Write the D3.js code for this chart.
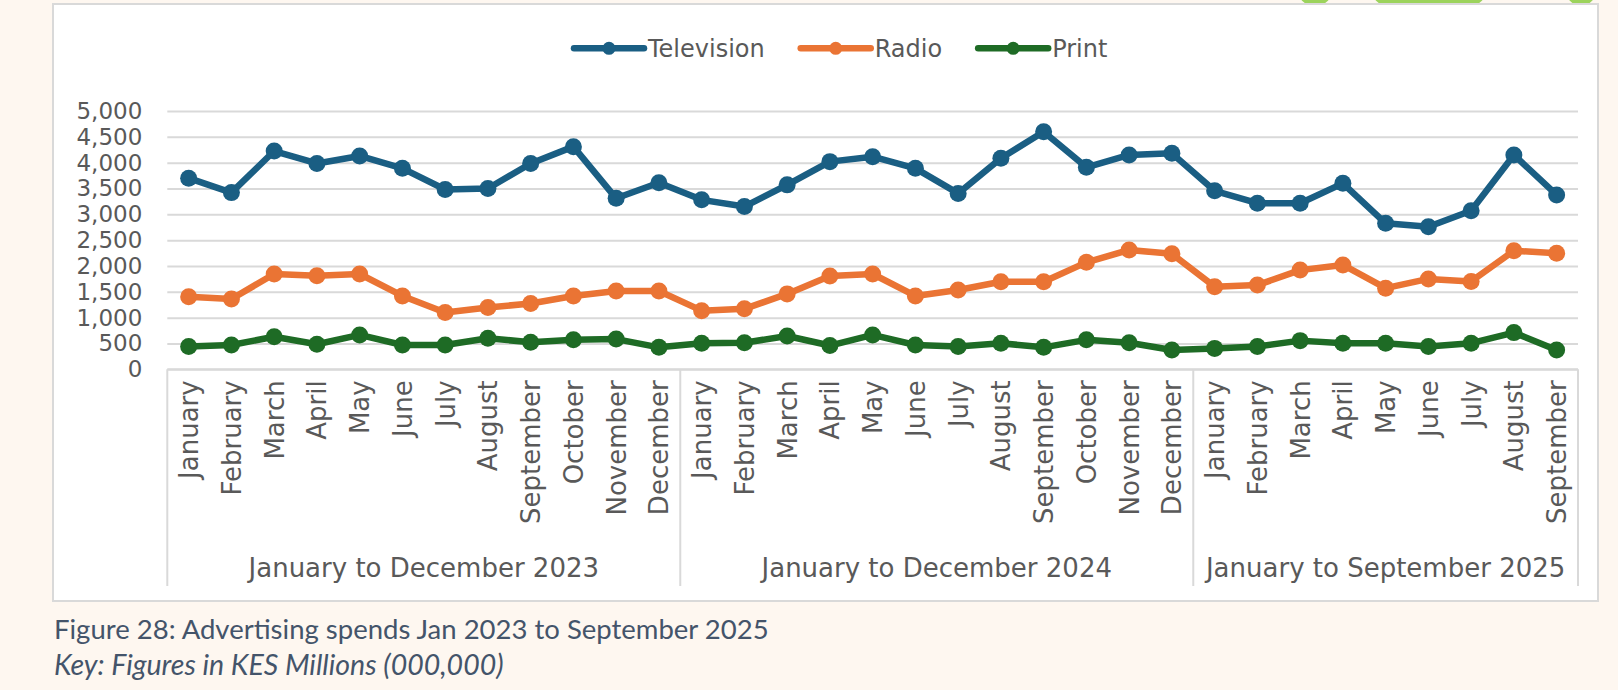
<!DOCTYPE html>
<html>
<head>
<meta charset="utf-8">
<script src="https://cdn.jsdelivr.net/npm/d3@7"></script>
<style>
  html, body { margin: 0; padding: 0; background: #fef7f0; }
  svg { display: block; }
</style>
</head>
<body>
<div id="chart"></div>
<script>
// category labels
const months = ["January", "February", "March", "April", "May", "June", "July",
  "August", "September", "October", "November", "December"];
const groups = ["January to December 2023", "January to December 2024", "January to September 2025"];
const groupLengths = [12, 12, 9];

// series values, KES millions
const television = [3700, 3420, 4225, 3985, 4130, 3890, 3480, 3500, 3985, 4310, 3310, 3610,
  3280, 3150, 3570, 4020, 4115, 3890, 3405, 4085, 4600, 3910, 4150, 4180,
  3455, 3215, 3215, 3600, 2825, 2760, 3070, 4150, 3375];
const radio = [1405, 1360, 1845, 1810, 1845, 1420, 1100, 1195, 1275, 1420, 1515, 1515,
  1135, 1170, 1460, 1805, 1845, 1420, 1535, 1695, 1695, 2070, 2310, 2235,
  1600, 1630, 1920, 2020, 1570, 1750, 1700, 2295, 2245];
const print = [440, 470, 630, 485, 665, 470, 470, 600, 525, 570, 585, 425,
  505, 515, 645, 460, 665, 470, 440, 505, 425, 570, 515, 375,
  405, 440, 555, 505, 505, 440, 505, 710, 375];

const yTicks = [0, 500, 1000, 1500, 2000, 2500, 3000, 3500, 4000, 4500, 5000];

const seriesList = [
  { name: "Television", values: television, color: "#1a5e83" },
  { name: "Radio", values: radio, color: "#ea7434" },
  { name: "Print", values: print, color: "#1e6b25" }
];

// build category keys
const categories = [];
groups.forEach((g, gi) => {
  months.slice(0, groupLengths[gi]).forEach(m => categories.push({ key: gi + "-" + m, month: m, group: gi }));
});

const width = 1618, height = 690;
const margin = { top: 111, left: 167.3 };
const plotRight = 1578;
const plotBottom = 369.3;
const font = "'DejaVu Sans', sans-serif";
const textColor = "#595959";

const svg = d3.select("#chart").append("svg")
  .attr("width", width)
  .attr("height", height)
  .attr("viewBox", [0, 0, width, height]);

svg.append("rect").attr("width", width).attr("height", height).attr("fill", "#fef7f0");

// green shapes peeking above the panel
[[1298, 34], [1372, 114], [1566, 30]].forEach(([x, w]) => {
  svg.append("rect")
    .attr("x", x).attr("y", -30).attr("width", w).attr("height", 36)
    .attr("rx", 16).attr("fill", "#9cd35c");
});

// chart panel
svg.append("rect")
  .attr("x", 53).attr("y", 4).attr("width", 1545).attr("height", 597)
  .attr("fill", "#ffffff").attr("stroke", "#d9d9d9").attr("stroke-width", 2);

const x = d3.scaleBand()
  .domain(categories.map(d => d.key))
  .range([margin.left, plotRight])
  .padding(0);

const y = d3.scaleLinear()
  .domain([0, 5000])
  .range([plotBottom, margin.top]);

// gridlines
svg.append("g")
  .attr("class", "grid")
  .attr("transform", `translate(${margin.left},0)`)
  .call(d3.axisLeft(y).tickValues(yTicks).tickSize(-(plotRight - margin.left)).tickFormat(""))
  .call(g => g.select(".domain").remove())
  .call(g => g.selectAll("line").attr("stroke", "#d9d9d9").attr("stroke-width", 2));

// y axis labels
svg.append("g")
  .attr("class", "axis axis--y")
  .attr("transform", `translate(${margin.left},0)`)
  .call(d3.axisLeft(y).tickValues(yTicks).tickSize(0).tickPadding(25).tickFormat(d3.format(",")))
  .call(g => g.select(".domain").remove())
  .call(g => g.selectAll("text")
    .attr("fill", textColor)
    .style("font-family", font)
    .style("font-size", "23px"));

// x axis line
svg.append("line")
  .attr("x1", margin.left).attr("x2", plotRight)
  .attr("y1", plotBottom).attr("y2", plotBottom)
  .attr("stroke", "#d9d9d9").attr("stroke-width", 2);

// month labels
const gX = svg.append("g")
  .attr("class", "axis axis--x")
  .attr("transform", `translate(0,${plotBottom})`)
  .call(d3.axisBottom(x).tickSize(0).tickFormat(k => categories.find(c => c.key === k).month))
  .call(g => g.select(".domain").remove());

gX.selectAll(".tick text")
  .attr("fill", textColor)
  .style("font-family", font)
  .style("font-size", "26px")
  .attr("text-anchor", "end")
  .attr("transform", "rotate(-90)")
  .attr("x", -11)
  .attr("y", 0)
  .attr("dy", "0.36em");

// group separators and group labels
let start = 0;
const boundaries = [0];
groupLengths.forEach(n => { start += n; boundaries.push(start); });

boundaries.forEach(b => {
  const xp = b < categories.length ? x(categories[b].key) : plotRight;
  svg.append("line")
    .attr("x1", xp).attr("x2", xp)
    .attr("y1", plotBottom).attr("y2", 586)
    .attr("stroke", "#d9d9d9").attr("stroke-width", 2);
});

groups.forEach((g, gi) => {
  const first = categories[boundaries[gi]].key;
  const last = categories[boundaries[gi + 1] - 1].key;
  const cx = (x(first) + x(last) + x.bandwidth()) / 2;
  svg.append("text")
    .attr("x", cx).attr("y", 577)
    .attr("text-anchor", "middle")
    .attr("fill", textColor)
    .style("font-family", font)
    .style("font-size", "26px")
    .text(g);
});

// lines and markers
const line = d3.line()
  .x((d, i) => x(categories[i].key) + x.bandwidth() / 2)
  .y(d => y(d));

seriesList.forEach(s => {
  const g = svg.append("g").attr("class", "series");
  g.append("path")
    .datum(s.values)
    .attr("d", line)
    .attr("fill", "none")
    .attr("stroke", s.color)
    .attr("stroke-width", 6.5)
    .attr("stroke-linejoin", "round");
  g.selectAll("circle")
    .data(s.values)
    .join("circle")
    .attr("cx", (d, i) => x(categories[i].key) + x.bandwidth() / 2)
    .attr("cy", d => y(d))
    .attr("r", 8.5)
    .attr("fill", s.color);
});

// legend
const legend = svg.append("g").attr("class", "legend");
let lx = 574;
const ly = 48.3;
seriesList.forEach(s => {
  legend.append("line")
    .attr("x1", lx).attr("x2", lx + 70)
    .attr("y1", ly).attr("y2", ly)
    .attr("stroke", s.color).attr("stroke-width", 6.5).attr("stroke-linecap", "round");
  legend.append("circle")
    .attr("cx", lx + 35).attr("cy", ly).attr("r", 6.5).attr("fill", s.color);
  const t = legend.append("text")
    .attr("x", lx + 74).attr("y", ly)
    .attr("dy", "0.36em")
    .attr("fill", textColor)
    .style("font-family", font)
    .style("font-size", "24px")
    .text(s.name);
  lx += 74 + t.node().getComputedTextLength() + 36;
});

// caption
svg.append("text")
  .attr("x", 54).attr("y", 639)
  .attr("fill", "#44546a")
  .style("font-family", "Lato, 'Open Sans', sans-serif")
  .style("font-size", "27.5px")
  .text("Figure 28: Advertising spends Jan 2023 to September 2025");

svg.append("text")
  .attr("x", 54).attr("y", 675)
  .attr("fill", "#44546a")
  .style("font-family", "Lato, 'Open Sans', sans-serif")
  .style("font-size", "28.5px")
  .style("font-style", "italic")
  .text("Key: Figures in KES Millions (000,000)");
</script>
</body>
</html>
